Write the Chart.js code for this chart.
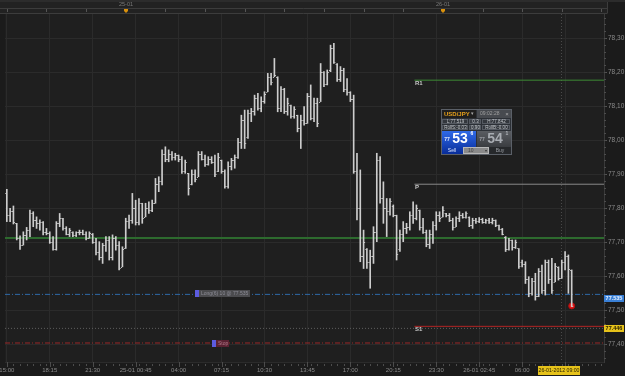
<!DOCTYPE html>
<html>
<head>
<meta charset="utf-8">
<script src="https://cdn.jsdelivr.net/npm/chart.js@4.4.1/dist/chart.umd.min.js"></script>
<style>
html, body { margin: 0; padding: 0; background: #1a1a1a; }
canvas { display: block; }
</style>
</head>
<body>
<canvas id="chart" width="625" height="376"></canvas>
<script>
// USD/JPY 15 min bars, 24-01 15:00 -> 26-01 09:30
const highs = [
	77.855,77.799,77.806,77.755,77.718,77.730,77.743,77.794,77.789,77.774,
	77.765,77.760,77.740,77.730,77.716,77.760,77.784,77.770,77.745,77.740,
	77.730,77.730,77.735,77.735,77.730,77.730,77.725,77.711,77.701,77.696,
	77.716,77.716,77.721,77.716,77.701,77.686,77.770,77.779,77.843,77.823,
	77.828,77.814,77.814,77.818,77.823,77.887,77.892,77.971,77.980,77.971,
	77.966,77.961,77.956,77.951,77.941,77.902,77.912,77.912,77.966,77.966,
	77.956,77.951,77.951,77.956,77.961,77.941,77.912,77.936,77.946,77.956,
	78.005,78.073,78.088,78.088,78.093,78.132,78.137,78.127,78.142,78.196,
	78.196,78.240,78.186,78.157,78.152,78.123,78.103,78.098,78.073,78.073,
	78.098,78.137,78.162,78.123,78.123,78.225,78.201,78.206,78.279,78.284,
	78.225,78.216,78.211,78.181,78.142,78.132,77.961,77.912,77.735,77.681,
	77.676,77.745,77.961,77.951,77.877,77.828,77.828,77.809,77.779,77.735,
	77.760,77.755,77.789,77.818,77.809,77.794,77.770,77.735,77.735,77.760,
	77.789,77.789,77.804,77.784,77.784,77.770,77.774,77.789,77.784,77.789,
	77.774,77.770,77.770,77.772,77.770,77.767,77.770,77.770,77.765,77.750,
	77.740,77.716,77.711,77.706,77.706,77.681,77.647,77.642,77.598,77.593,
	77.608,77.622,77.632,77.647,77.647,77.652,77.637,77.627,77.647,77.672,
	77.662,77.618
];
const lows = [
	77.760,77.760,77.753,77.706,77.678,77.691,77.706,77.716,77.745,77.740,
	77.735,77.721,77.721,77.696,77.676,77.676,77.745,77.735,77.721,77.716,
	77.716,77.716,77.721,77.721,77.706,77.711,77.696,77.662,77.647,77.637,
	77.672,77.647,77.647,77.676,77.618,77.627,77.681,77.740,77.755,77.750,
	77.750,77.755,77.774,77.784,77.789,77.814,77.848,77.868,77.936,77.936,
	77.941,77.941,77.936,77.902,77.902,77.838,77.868,77.877,77.892,77.941,
	77.922,77.926,77.931,77.892,77.907,77.902,77.858,77.858,77.912,77.917,
	77.946,77.975,77.975,78.005,78.054,78.073,78.088,78.083,78.108,78.142,
	78.162,78.186,78.083,78.083,78.078,78.073,78.064,78.064,78.024,77.975,
	78.044,78.049,78.059,78.054,78.039,78.113,78.157,78.162,78.201,78.225,
	78.172,78.172,78.142,78.132,78.113,77.902,77.765,77.642,77.622,77.622,
	77.564,77.637,77.701,77.814,77.755,77.716,77.779,77.774,77.647,77.672,
	77.701,77.725,77.735,77.755,77.765,77.735,77.725,77.686,77.681,77.696,
	77.735,77.760,77.774,77.774,77.760,77.735,77.745,77.760,77.770,77.770,
	77.745,77.740,77.755,77.757,77.755,77.755,77.755,77.753,77.745,77.735,
	77.721,77.672,77.676,77.676,77.681,77.622,77.627,77.578,77.539,77.544,
	77.529,77.539,77.549,77.544,77.578,77.549,77.583,77.588,77.593,77.618,
	77.549,77.510
];
const opens = [
	77.845,77.780,77.790,77.755,77.712,77.691,77.722,77.735,77.785,77.765,
	77.755,77.760,77.730,77.726,77.700,77.680,77.755,77.770,77.740,77.725,
	77.730,77.720,77.728,77.730,77.725,77.712,77.725,77.700,77.670,77.655,
	77.690,77.705,77.655,77.712,77.690,77.627,77.681,77.762,77.765,77.800,
	77.760,77.814,77.774,77.800,77.795,77.815,77.870,77.880,77.960,77.945,
	77.960,77.950,77.955,77.945,77.910,77.902,77.870,77.900,77.892,77.960,
	77.945,77.930,77.945,77.935,77.910,77.940,77.910,77.865,77.925,77.940,
	77.950,77.995,78.060,78.010,78.080,78.085,78.125,78.095,78.115,78.142,
	78.185,78.186,78.186,78.095,78.150,78.085,78.103,78.070,78.073,78.035,
	78.060,78.050,78.130,78.065,78.110,78.113,78.200,78.165,78.205,78.270,
	78.225,78.180,78.205,78.150,78.140,78.120,77.910,77.800,77.660,77.680,
	77.640,77.660,77.730,77.940,77.830,77.800,77.790,77.805,77.779,77.680,
	77.725,77.740,77.745,77.780,77.770,77.794,77.745,77.730,77.695,77.725,
	77.750,77.780,77.775,77.784,77.778,77.765,77.745,77.770,77.780,77.775,
	77.774,77.750,77.765,77.762,77.768,77.760,77.764,77.758,77.765,77.750,
	77.738,77.716,77.680,77.705,77.685,77.681,77.640,77.635,77.590,77.550,
	77.585,77.540,77.615,77.560,77.640,77.590,77.583,77.627,77.595,77.640,
	77.660,77.618
];
const closes = [
	77.780,77.790,77.760,77.712,77.690,77.722,77.735,77.785,77.765,77.755,
	77.760,77.730,77.726,77.700,77.680,77.755,77.770,77.740,77.725,77.735,
	77.720,77.728,77.730,77.725,77.712,77.726,77.700,77.670,77.655,77.690,
	77.705,77.655,77.712,77.690,77.625,77.680,77.762,77.765,77.800,77.760,
	77.815,77.770,77.800,77.795,77.815,77.870,77.880,77.960,77.945,77.960,
	77.950,77.955,77.945,77.910,77.935,77.860,77.900,77.885,77.960,77.945,
	77.930,77.945,77.935,77.900,77.950,77.910,77.865,77.925,77.940,77.950,
	77.995,78.060,77.990,78.080,78.085,78.125,78.095,78.115,78.135,78.185,
	78.170,78.190,78.095,78.150,78.085,78.110,78.070,78.090,78.035,78.060,
	78.050,78.130,78.065,78.110,78.050,78.200,78.165,78.200,78.270,78.230,
	78.180,78.205,78.150,78.140,78.120,77.910,77.800,77.660,77.700,77.640,
	77.660,77.730,77.940,77.830,77.800,77.790,77.820,77.780,77.665,77.725,
	77.740,77.745,77.780,77.770,77.800,77.745,77.730,77.695,77.725,77.750,
	77.780,77.770,77.795,77.778,77.765,77.745,77.770,77.780,77.775,77.785,
	77.750,77.765,77.762,77.768,77.760,77.764,77.758,77.766,77.750,77.738,
	77.725,77.680,77.705,77.685,77.700,77.630,77.635,77.590,77.550,77.585,
	77.540,77.615,77.560,77.640,77.590,77.560,77.630,77.595,77.640,77.660,
	77.620,77.512
];

// axis labels (every 13 bars = 3h15)
const timeLabels = ['15:00','18:15','21:30','25-01 00:45','04:00','07:15','10:30','13:45','17:00','20:15','23:30','26-01 02:45','06:00'];
const labelStep = 13;
const dayNames = ['25-01', '26-01'];
const dayBars = [36, 132];
const priceTicks = [77.40, 77.50, 77.60, 77.70, 77.80, 77.90, 78.00, 78.10, 78.20, 78.30];
const cursorBar = 167.8;
const cursorLabel = '26-01-2012 09:00';

// levels
const pivotStart = 123.4;
const pivotR1 = 78.176;
const pivotP = 77.870;
const pivotS1 = 77.452;
const greenLevel = 77.712;
const entryLevel = 77.546;
const entryTag = 77.535;
const bidLevel = 77.446;
const stopLevel = 77.403;

const X_MIN = -0.55, X_MAX = 180.78;
const FONT = '"Liberation Sans", Arial, sans-serif';
const BAR_COLOR = '#cdcdcd';

const ohlc = highs.map((h, i) => ({ x: i, y: [lows[i], h] }));

function hline(y, from, color, width, dash) {
	return {
		type: 'line',
		data: [{ x: from, y: y }, { x: X_MAX, y: y }],
		borderColor: color,
		borderWidth: width,
		borderDash: dash || [],
		pointRadius: 0,
		fill: false
	};
}

function txt(ctx, s, x, y, font, color, align) {
	ctx.font = font;
	ctx.fillStyle = color;
	ctx.textAlign = align || 'left';
	ctx.textBaseline = 'middle';
	ctx.fillText(s, x, y);
}

function drawWidget(ctx) {
	const X = 441, Y = 109;
	ctx.fillStyle = '#2c3036';
	ctx.fillRect(X, Y, 71, 46);
	ctx.strokeStyle = '#5b6068';
	ctx.lineWidth = 1;
	ctx.strokeRect(X + 0.5, Y + 0.5, 70, 45);
	// header
	ctx.fillStyle = '#1f1f1f';
	ctx.fillRect(X + 1, Y + 1, 34, 8);
	ctx.fillStyle = '#474a4f';
	ctx.fillRect(X + 36, Y + 1, 34, 8);
	txt(ctx, 'USD/JPY', X + 3, Y + 5, 'bold 6px ' + FONT, '#e8a21c');
	txt(ctx, '▾', X + 31, Y + 5, '5px ' + FONT, '#aaa', 'center');
	txt(ctx, '09:02:28', X + 39, Y + 5, '5px ' + FONT, '#a0a0a0');
	txt(ctx, '×', X + 66, Y + 5, '6px ' + FONT, '#b0b0b0', 'center');
	// info rows
	const rows = [['L:77.519', '0.3', 'H:77.842'], ['RollS:-0.03', '0.90', 'RollB:-0.00']];
	const cells = [[1, 27], [28, 13], [41, 29]];
	rows.forEach((r, k) => {
		const yy = Y + 10 + k * 6;
		cells.forEach((c, j) => {
			ctx.fillStyle = j === 1 ? '#3d4148' : '#33373d';
			ctx.fillRect(X + c[0], yy, c[1] - 1, 5);
			ctx.strokeStyle = '#555a62';
			ctx.strokeRect(X + c[0] + 0.5, yy + 0.5, c[1] - 2, 4);
			txt(ctx, r[j], X + c[0] + c[1] / 2, yy + 3, '4.5px ' + FONT, '#c0c4c8', 'center');
		});
	});
	// sell / buy buttons
	let g = ctx.createLinearGradient(0, Y + 22, 0, Y + 44);
	g.addColorStop(0, '#2f6ae8');
	g.addColorStop(1, '#0a2f9c');
	ctx.fillStyle = g;
	ctx.fillRect(X + 1, Y + 22, 34, 23);
	g = ctx.createLinearGradient(0, Y + 22, 0, Y + 44);
	g.addColorStop(0, '#5a5d62');
	g.addColorStop(1, '#2e3034');
	ctx.fillStyle = g;
	ctx.fillRect(X + 36, Y + 22, 34, 16);
	ctx.fillStyle = '#26282b';
	ctx.fillRect(X + 49, Y + 38, 21, 7);
	txt(ctx, '77', X + 6, Y + 31, 'bold 5px ' + FONT, '#dfe8ff', 'center');
	txt(ctx, '53', X + 19, Y + 30, 'bold 14px ' + FONT, '#ffffff', 'center');
	txt(ctx, '6', X + 31, Y + 25, 'bold 5px ' + FONT, '#ffffff', 'center');
	txt(ctx, '77', X + 41, Y + 31, 'bold 5px ' + FONT, '#9a9ea4', 'center');
	txt(ctx, '54', X + 54, Y + 30, 'bold 14px ' + FONT, '#a8acb2', 'center');
	txt(ctx, '1', X + 66, Y + 25, 'bold 5px ' + FONT, '#b0b4ba', 'center');
	// bottom row
	ctx.fillStyle = '#b8b8b8';
	ctx.fillRect(X + 22, Y + 38, 26, 7);
	ctx.fillStyle = '#8a8a8a';
	ctx.fillRect(X + 23, Y + 39, 24, 5);
	txt(ctx, 'Sell', X + 11, Y + 41.5, '5px ' + FONT, '#dfe8ff', 'center');
	txt(ctx, '10', X + 27, Y + 41.5, '5px ' + FONT, '#444', 'left');
	txt(ctx, '▾', X + 45, Y + 41.5, '4px ' + FONT, '#333', 'center');
	txt(ctx, 'Buy', X + 59, Y + 41.5, '5px ' + FONT, '#9a9ea4', 'center');
}

const chrome = {
	id: 'chrome',
	beforeDraw(chart) {
		const { ctx, chartArea: a, scales: { x } } = chart;
		ctx.save();
		ctx.fillStyle = '#1b1b1b';
		ctx.fillRect(0, 0, chart.width, chart.height);
		ctx.fillStyle = '#1f1f1f';
		ctx.fillRect(a.left, a.top, a.right - a.left, a.bottom - a.top);
		// top time strip
		ctx.fillStyle = '#2c2c2c';
		ctx.fillRect(0, 0, chart.width, 2);
		ctx.fillStyle = '#222222';
		ctx.fillRect(0, 2, 607, 12);
		ctx.strokeStyle = '#3c3c3c';
		ctx.beginPath();
		ctx.moveTo(0, 8.5); ctx.lineTo(607, 8.5);
		ctx.moveTo(0, 13.5); ctx.lineTo(607, 13.5);
		ctx.moveTo(607.5, 2); ctx.lineTo(607.5, 13.5);
		ctx.stroke();
		ctx.strokeStyle = '#555';
		ctx.beginPath();
		for (let i = 0; i <= X_MAX; i += 12) {
			const px = Math.round(x.getPixelForValue(i)) + 0.5;
			ctx.moveTo(px, 9); ctx.lineTo(px, 12);
		}
		ctx.stroke();
		dayBars.forEach((b, k) => {
			const px = Math.round(x.getPixelForValue(b));
			txt(ctx, dayNames[k], px, 4.5, '5.5px ' + FONT, '#7a7a7a', 'center');
			ctx.fillStyle = '#d8900c';
			ctx.beginPath();
			ctx.moveTo(px - 2, 9); ctx.lineTo(px + 2, 9); ctx.lineTo(px + 2, 11);
			ctx.lineTo(px, 13); ctx.lineTo(px - 2, 11); ctx.closePath();
			ctx.fill();
		});
		ctx.restore();
	},
	beforeDatasetsDraw(chart) {
		const { ctx, chartArea: a, scales: { x } } = chart;
		ctx.save();
		ctx.strokeStyle = '#4a4a4a';
		ctx.setLineDash([1, 2]);
		const px = Math.round(x.getPixelForValue(cursorBar)) + 0.5;
		ctx.beginPath();
		ctx.moveTo(px, a.top); ctx.lineTo(px, a.bottom);
		ctx.stroke();
		ctx.restore();
	},
	afterDatasetDraw(chart, args) {
		if (args.index !== 0) return;
		const { ctx, scales: { x, y } } = chart;
		ctx.save();
		ctx.fillStyle = BAR_COLOR;
		opens.forEach((o, i) => {
			const pc = x.getPixelForValue(i);
			ctx.fillRect(pc - 1.5, Math.round(y.getPixelForValue(o)), 1, 1);
			ctx.fillRect(pc + 0.5, Math.round(y.getPixelForValue(closes[i])), 1, 1);
		});
		ctx.restore();
	},
	afterDraw(chart) {
		const { ctx, chartArea: a, scales: { x, y } } = chart;
		ctx.save();
		// bottom axis ticks and labels
		ctx.strokeStyle = '#4c4c4c';
		ctx.beginPath();
		for (let i = 0; i <= X_MAX; i += 2) {
			const px = Math.round(x.getPixelForValue(i)) + 0.5;
			ctx.moveTo(px, 364); ctx.lineTo(px, 366);
		}
		for (let k = 0; k * labelStep <= X_MAX; k++) {
			const px = Math.round(x.getPixelForValue(k * labelStep)) + 0.5;
			ctx.moveTo(px, a.bottom); ctx.lineTo(px, 367);
		}
		ctx.stroke();
		timeLabels.forEach((s, k) => {
			txt(ctx, s, x.getPixelForValue(k * labelStep), 370.5, '6px ' + FONT, '#8a8a8a', 'center');
		});
		const cx = Math.round(x.getPixelForValue(cursorBar)) - 2;
		ctx.fillStyle = '#e6c21a';
		ctx.fillRect(cx - 21, 366, 42, 9);
		txt(ctx, cursorLabel, cx, 370.5, '5.2px ' + FONT, '#2a2200', 'center');
		// right axis minor ticks
		ctx.strokeStyle = '#4c4c4c';
		ctx.beginPath();
		for (let v = 77.36; v <= 78.37; v += 0.02) {
			const py = Math.round(y.getPixelForValue(v)) + 0.5;
			ctx.moveTo(a.right, py); ctx.lineTo(a.right + 2, py);
		}
		ctx.stroke();
		// pivot labels
		const lx = Math.round(x.getPixelForValue(pivotStart)) + 1;
		[['R1', pivotR1], ['P', pivotP], ['S1', pivotS1]].forEach(([s, v]) => {
			txt(ctx, s, lx, y.getPixelForValue(v) + 3, 'bold 6px ' + FONT, '#c8c8c8');
		});
		// order handles
		const ey = Math.round(y.getPixelForValue(entryLevel));
		ctx.fillStyle = '#5c5ce0';
		ctx.fillRect(195, ey - 4, 4, 7);
		ctx.fillStyle = '#4b4b4e';
		ctx.fillRect(199, ey - 4, 51, 7);
		txt(ctx, 'Long(6) 10 @ 77.535', 201, ey - 0.5, '5px ' + FONT, '#8c8c96');
		const sy = Math.round(y.getPixelForValue(stopLevel));
		ctx.fillStyle = '#5c5ce0';
		ctx.fillRect(212, sy - 3, 4, 7);
		ctx.fillStyle = '#5a2232';
		ctx.fillRect(216, sy - 3, 13, 7);
		txt(ctx, 'Stop', 218, sy + 0.5, '5px ' + FONT, '#b07888');
		// price tags on the right axis
		const by = y.getPixelForValue(entryTag);
		ctx.fillStyle = '#3a80d6';
		ctx.fillRect(604, Math.round(by) - 3, 20, 7);
		txt(ctx, '77.535', 614, by + 0.5, 'bold 5.5px ' + FONT, '#e6f0ff', 'center');
		const yy = y.getPixelForValue(bidLevel);
		ctx.fillStyle = '#e6c21a';
		ctx.fillRect(604, Math.round(yy) - 3, 20, 7);
		txt(ctx, '77.446', 614, yy + 0.5, 'bold 5.5px ' + FONT, '#2a2200', 'center');
		drawWidget(ctx);
		ctx.restore();
	}
};

Chart.defaults.font.family = FONT;

new Chart(document.getElementById('chart'), {
	type: 'bar',
	data: {
		datasets: [
			{
				type: 'bar',
				data: ohlc,
				backgroundColor: BAR_COLOR,
				barThickness: 1,
				grouped: false
			},
			hline(pivotR1, pivotStart, '#3d8a35', 1),
			hline(pivotP, pivotStart, '#8a8a8a', 1),
			hline(pivotS1, pivotStart, '#b22424', 1),
			hline(greenLevel, X_MIN, '#2d6a2e', 2),
			hline(entryLevel, X_MIN, '#2f6aa8', 1, [5, 2, 1, 2]),
			hline(bidLevel, X_MIN, '#5e5e5e', 1, [1, 2]),
			hline(stopLevel, X_MIN, '#9a2828', 1, [5, 2, 1, 2]),
			{
				type: 'line',
				data: [{ x: closes.length - 1, y: closes[closes.length - 1] }],
				showLine: false,
				pointRadius: 3,
				pointBackgroundColor: '#e01818',
				pointBorderColor: '#b01010',
				pointBorderWidth: 1
			}
		]
	},
	options: {
		responsive: false,
		animation: false,
		devicePixelRatio: 1,
		layout: { padding: { top: 14, left: 0, right: 0, bottom: 0 } },
		plugins: { legend: { display: false }, tooltip: { enabled: false } },
		scales: {
			x: {
				type: 'linear',
				min: X_MIN,
				max: X_MAX,
				offset: false,
				grid: { color: '#2b2b2b', offset: false, drawTicks: false },
				border: { color: '#2b2b2b' },
				ticks: { display: false },
				afterBuildTicks: (scale) => {
					const t = [];
					for (let i = 0; i <= X_MAX; i += labelStep) t.push({ value: i });
					scale.ticks = t;
				},
				afterFit: (scale) => { scale.height = 14; }
			},
			y: {
				position: 'right',
				min: 77.3471,
				max: 78.3706,
				grid: { color: '#2b2b2b', tickColor: '#555', tickLength: 3 },
				border: { color: '#3a3a3a' },
				ticks: {
					color: '#8a8a8a',
					padding: 1,
					font: { size: 6.5 },
					callback: (v) => v.toFixed(2).replace('.', ',')
				},
				afterBuildTicks: (scale) => {
					scale.ticks = priceTicks.map(v => ({ value: v }));
				},
				afterFit: (scale) => { scale.width = 21; }
			}
		}
	},
	plugins: [chrome]
});
</script>
</body>
</html>
